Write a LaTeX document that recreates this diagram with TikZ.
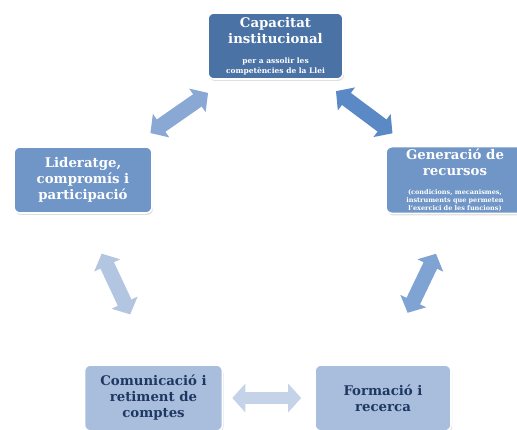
\documentclass[tikz,border=0pt]{standalone}
\usepackage{fontspec}
\setmainfont{DejaVu Serif}
\usepackage{xcolor}
\usepackage{tikz}
\usetikzlibrary{arrows.meta, positioning, calc, shadows}
\definecolor{cap-dark}{HTML}{4A72A5}
\definecolor{mid-blue}{HTML}{7096C7}
\definecolor{light-blue}{HTML}{A9BEDD}
\definecolor{navy-text}{HTML}{1F3862}
\definecolor{arr-a}{HTML}{8AA8D4}
\definecolor{arr-b}{HTML}{5B89C5}
\definecolor{arr-c}{HTML}{B3C6E1}
\definecolor{arr-d}{HTML}{7FA3D3}
\definecolor{arr-e}{HTML}{C5D3E8}
\newcommand{\subtxt}[1]{{\fontsize{7.5}{8.5}\selectfont #1}}
\newcommand{\tinytxt}[1]{{\fontsize{6.5}{7.2}\selectfont #1}}

\begin{document}
\begin{tikzpicture}[x=1pt, y=-1pt,
    box/.style={draw=white, line width=1.6pt, rounded corners=6pt,
        minimum width=138pt, minimum height=66pt, align=center,
        inner sep=2pt, font=\bfseries\fontsize{13.3}{16}\selectfont,
        drop shadow={opacity=0.25, shadow xshift=1pt, shadow yshift=-2pt}},
    darkbox/.style={box, fill=cap-dark, text=white},
    midbox/.style={box, fill=mid-blue, text=white},
    lightbox/.style={box, fill=light-blue, text=navy-text},
    dblarrow/.style={line width=15pt,
        {Triangle[width=28pt,length=13pt]}-{Triangle[width=28pt,length=13pt]}}]
    \useasboundingbox (0,0) rectangle (517,430);

    % the five boxes
    \node[darkbox, minimum width=135pt] (capac) at (275.5,46)
        {Capacitat\\institucional\\[4pt]\subtxt{per a assolir les}\\[-6.5pt]\subtxt{competències de la Llei}};
    \node[midbox] (lider) at (83,180) {Lideratge,\\compromís i\\participació};
    \node[midbox] (gener) at (455,180)
        {Generació de\\recursos\\[3pt]\tinytxt{(condicions, mecanismes,}\\[-8pt]\tinytxt{instruments que permeten}\\[-8pt]\tinytxt{l'exercici de les funcions)}};
    \node[lightbox] (comun) at (153.5,398) {Comunicació i\\retiment de\\comptes};
    \node[lightbox, minimum width=136pt] (forma) at (383,398) {Formació i\\recerca};

    % arrows between boxes
    \draw[dblarrow, arr-a, shorten <=23pt, shorten >=23pt] (lider) -- (capac);
    \draw[dblarrow, arr-b, shorten <=19pt, shorten >=21pt] (capac) -- (gener);
    \draw[dblarrow, arr-c, shorten <=44pt, shorten >=55pt] (lider.south) -- (comun.north);
    \draw[dblarrow, arr-d, shorten <=44pt, shorten >=57pt] (gener.south) -- (forma.north);
    \draw[dblarrow, arr-e, line width=12pt, shorten <=9pt, shorten >=13pt] (comun.east) -- (forma.west);
\end{tikzpicture}
\end{document}
